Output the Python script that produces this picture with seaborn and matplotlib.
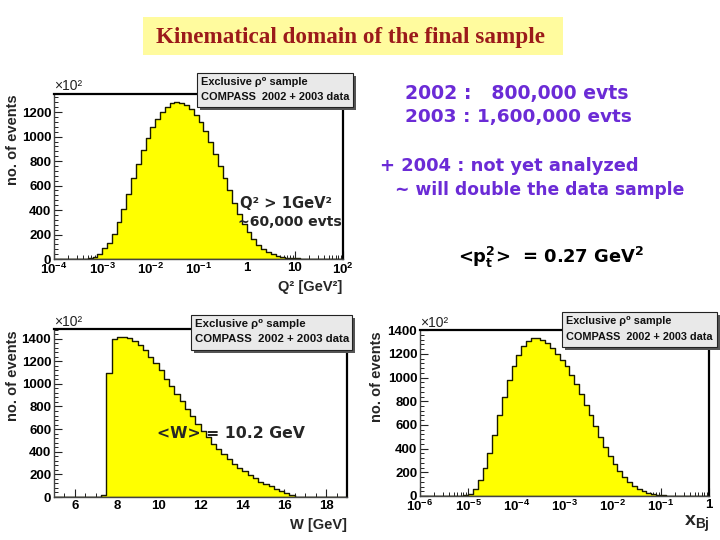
import numpy as np
import pandas as pd
import matplotlib
matplotlib.use("Agg")
import matplotlib.pyplot as plt
import seaborn as sns
from matplotlib.patches import Rectangle
from matplotlib.ticker import MultipleLocator, FuncFormatter, NullFormatter, LogLocator

# ---------------- data ----------------
title_text = "Kinematical domain of the final sample"
legend_line1 = "Exclusive \u03c1\u2070 sample"
legend_line2 = "COMPASS  2002 + 2003 data"

# Q^2 : log10 bins of width 0.1 between 1e-4 and 1e2
q2_log_range = (-4.0, 2.0)
q2_bin_width = 0.1
q2_first_bin = -3.3
q2_counts = [5, 19, 41, 87, 133, 204, 305, 405, 531, 658, 776, 890, 985, 1075, 1148,
             1203, 1244, 1276, 1284, 1276, 1255, 1225, 1180, 1120, 1045, 960, 860, 760,
             660, 560, 460, 370, 290, 220, 160, 115, 80, 55, 38, 26, 18, 12, 8, 5, 3, 2]

# W : bins of width 0.25 GeV between 5 and 19 GeV
w_range = (5.0, 19.0)
w_bin_width = 0.25
w_first_bin = 7.25
w_counts = [15, 1100, 1399, 1414, 1414, 1408, 1379, 1341, 1297, 1239, 1181, 1118, 1042,
            978, 914, 848, 781, 717, 644, 586, 528, 470, 427, 383, 334, 296, 258, 229,
            194, 165, 136, 113, 93, 73, 55, 32, 15]

# x_Bj : log10 bins of width 0.1 between 1e-6 and 1
xbj_log_range = (-6.0, 0.0)
xbj_bin_width = 0.1
xbj_first_bin = -5.1
xbj_counts = [5, 20, 60, 135, 235, 360, 515, 680, 840, 980, 1095, 1190, 1265, 1310, 1333,
              1335, 1320, 1292, 1248, 1200, 1150, 1095, 1025, 945, 860, 770, 680, 590, 500,
              415, 340, 270, 210, 160, 118, 85, 60, 40, 27, 17, 10, 6, 3, 2, 1]

info_lines = ["2002 :   800,000 evts", "2003 : 1,600,000 evts",
              "+ 2004 : not yet analyzed", "~ will double the data sample"]
pt_text = "<p$_{\\mathdefault{t}}^{\\mathdefault{2}}$>  = 0.27 GeV$^{\\mathdefault{2}}$"
q2_note = ["Q\u00b2 > 1GeV\u00b2", "~60,000 evts"]
w_note = "<W> = 10.2 GeV"

# ---------------- style ----------------
sns.set_style("white")
plt.rcParams["font.family"] = ["Liberation Sans", "DejaVu Sans"]
plt.rcParams["font.weight"] = "bold"
plt.rcParams["axes.linewidth"] = 1.0

W_PX, H_PX = 720, 540
fig = plt.figure(figsize=(7.2, 5.4), dpi=100, facecolor="white")
renderer = fig.canvas.get_renderer()


def fx(x):
    return x / W_PX


def fy(y):
    return 1 - y / H_PX


def add_axes_px(l, t, r, b):
    return fig.add_axes([fx(l), fy(b), (r - l) / W_PX, (b - t) / H_PX])


def fit(t, target_w):
    w = t.get_window_extent(renderer=renderer).width
    t.set_fontsize(t.get_fontsize() * target_w / w)
    return t


def build(lo, hi, width, first, counts):
    n = int(round((hi - lo) / width))
    edges = lo + width * np.arange(n + 1)
    vals = np.zeros(n)
    i0 = int(round((first - lo) / width))
    vals[i0:i0 + len(counts)] = counts
    centers = 0.5 * (edges[:-1] + edges[1:])
    return n, centers, vals


def draw_hist(ax, x, counts, nbins, rng, log):
    df = pd.DataFrame({"x": x, "n": counts})
    sns.histplot(data=df, x="x", weights="n", bins=nbins, binrange=rng, log_scale=log,
                 element="step", fill=True, color="#ffff00", edgecolor="#1a1a00",
                 linewidth=1.0, alpha=1.0, ax=ax)
    ax.set_xlabel("")
    ax.set_ylabel("")


def log_fmt(v, pos):
    e = int(round(np.log10(v)))
    if e == 0:
        return "1"
    if e == 1:
        return "10"
    return r"$\mathdefault{10^{%d}}$" % e


def style_axes(ax, ymax):
    ax.set_ylim(0, ymax)
    ax.yaxis.set_major_locator(MultipleLocator(200))
    ax.yaxis.set_minor_locator(MultipleLocator(40))
    ax.tick_params(axis="both", which="both", direction="in", top=False, right=False,
                   left=True, bottom=True, colors="#222222")
    ax.tick_params(which="major", length=6, width=0.8, labelsize=9.5, pad=2,
                   labelcolor="black")
    ax.tick_params(which="minor", length=3, width=0.7)
    for s in ["left", "bottom"]:
        ax.spines[s].set_color("#444444")
        ax.spines[s].set_linewidth(1.0)
    for s in ["top", "right"]:
        ax.spines[s].set_color("black")
        ax.spines[s].set_linewidth(1.6)
    ax.set_facecolor("white")


def legend_box(l, t, r, b):
    fig.add_artist(Rectangle((fx(l + 3), fy(b + 3)), (r - l) / W_PX, (b - t) / H_PX,
                             transform=fig.transFigure, facecolor="#555555",
                             edgecolor="none", zorder=5))
    fig.add_artist(Rectangle((fx(l), fy(b)), (r - l) / W_PX, (b - t) / H_PX,
                             transform=fig.transFigure, facecolor="#e9e9e9",
                             edgecolor="#222222", linewidth=0.8, zorder=6))
    t1 = fig.text(fx(l + 4), fy(t + (b - t) * 0.27), legend_line1, ha="left",
                  va="center", fontsize=8, zorder=7, color="#111111")
    t2 = fig.text(fx(l + 4), fy(t + (b - t) * 0.70), legend_line2, ha="left",
                  va="center", fontsize=8, zorder=7, color="#111111")
    fit(t2, (r - l) - 7)
    t1.set_fontsize(t2.get_fontsize())


def ylabel_px(x, top):
    fig.text(fx(x), fy(top), "no. of events", rotation=90, ha="center", va="top",
             fontsize=10.5)


def x10(x, y):
    fig.text(fx(x), fy(y), "\u00d710\u00b2", ha="left", va="center", fontsize=10,
             fontweight="normal", color="#222222")


# ---------------- title ----------------
fig.add_artist(Rectangle((fx(143), fy(55)), 420 / W_PX, 38 / H_PX,
                         transform=fig.transFigure, facecolor="#fffb9e",
                         edgecolor="none", zorder=1))
tt = fig.text(fx(351), fy(37), title_text, ha="center", va="center",
              family="Liberation Serif", fontweight="bold", color="#9b1a1a",
              fontsize=16, zorder=2)
fit(tt, 390)

# ---------------- Q2 panel ----------------
ax1 = add_axes_px(54, 94, 343, 259)
n, c, v = build(*q2_log_range, q2_bin_width, q2_first_bin, q2_counts)
draw_hist(ax1, 10 ** c, v, n, q2_log_range, True)
style_axes(ax1, 1.05 * max(q2_counts))
ax1.set_xlim(10.0 ** q2_log_range[0], 10.0 ** q2_log_range[1])
ax1.xaxis.set_major_locator(LogLocator(base=10, numticks=20))
ax1.xaxis.set_major_formatter(FuncFormatter(log_fmt))
ax1.xaxis.set_minor_locator(LogLocator(base=10, subs=np.arange(2, 10), numticks=50))
ax1.xaxis.set_minor_formatter(NullFormatter())
legend_box(197, 73, 353, 107)
ylabel_px(13, 94)
x10(54, 86)
fig.text(fx(342), fy(287), "Q\u00b2 [GeV\u00b2]", ha="right", va="center", fontsize=10.5)
n1 = fig.text(fx(240), fy(203), q2_note[0], family="DejaVu Sans", fontweight="bold",
              ha="left", va="center", fontsize=10)
fit(n1, 92)
n2 = fig.text(fx(238), fy(222), q2_note[1], family="DejaVu Sans", fontweight="bold",
              ha="left", va="center", fontsize=10)
fit(n2, 104)

# ---------------- W panel ----------------
ax2 = add_axes_px(54, 329, 347, 497)
n, c, v = build(*w_range, w_bin_width, w_first_bin, w_counts)
draw_hist(ax2, c, v, n, w_range, False)
style_axes(ax2, 1.05 * max(w_counts))
ax2.set_xlim(*w_range)
ax2.xaxis.set_major_locator(MultipleLocator(2))
ax2.xaxis.set_minor_locator(MultipleLocator(0.5))
legend_box(191, 315, 352, 350)
ylabel_px(13, 330)
x10(54, 322)
fig.text(fx(347), fy(525), "W [GeV]", ha="right", va="center", fontsize=10.5)
wn = fig.text(fx(157), fy(433), w_note, family="DejaVu Sans", fontweight="bold",
              ha="left", va="center", fontsize=12)
fit(wn, 148)

# ---------------- x_Bj panel ----------------
ax3 = add_axes_px(420, 330, 709, 496)
n, c, v = build(*xbj_log_range, xbj_bin_width, xbj_first_bin, xbj_counts)
draw_hist(ax3, 10 ** c, v, n, xbj_log_range, True)
style_axes(ax3, 1.05 * max(xbj_counts))
ax3.set_xlim(10.0 ** xbj_log_range[0], 10.0 ** xbj_log_range[1])
ax3.xaxis.set_major_locator(LogLocator(base=10, numticks=20))
ax3.xaxis.set_major_formatter(FuncFormatter(log_fmt))
ax3.xaxis.set_minor_locator(LogLocator(base=10, subs=np.arange(2, 10), numticks=50))
ax3.xaxis.set_minor_formatter(NullFormatter())
legend_box(562, 312, 717, 347)
ylabel_px(377, 331)
x10(420, 323)
fig.text(fx(710), fy(524), r"$\mathdefault{x_{Bj}}$", ha="right", va="center",
         fontsize=14)

# ---------------- right-hand notes ----------------
purple = "#6b2bd6"
info_pos = [(405, 93, 223), (405, 117, 226), (380, 166, 257), (395, 190, 287)]
for txt, (x, y, w) in zip(info_lines, info_pos):
    t = fig.text(fx(x), fy(y), txt, family="DejaVu Sans", fontweight="bold",
                 color=purple, ha="left", va="center", fontsize=12)
    fit(t, w)
pt = fig.text(fx(458), fy(257), pt_text, family="DejaVu Sans", fontweight="bold",
              color="black", ha="left", va="center", fontsize=12)
fit(pt, 186)

fig.savefig("out.png", dpi=100, facecolor="white")
